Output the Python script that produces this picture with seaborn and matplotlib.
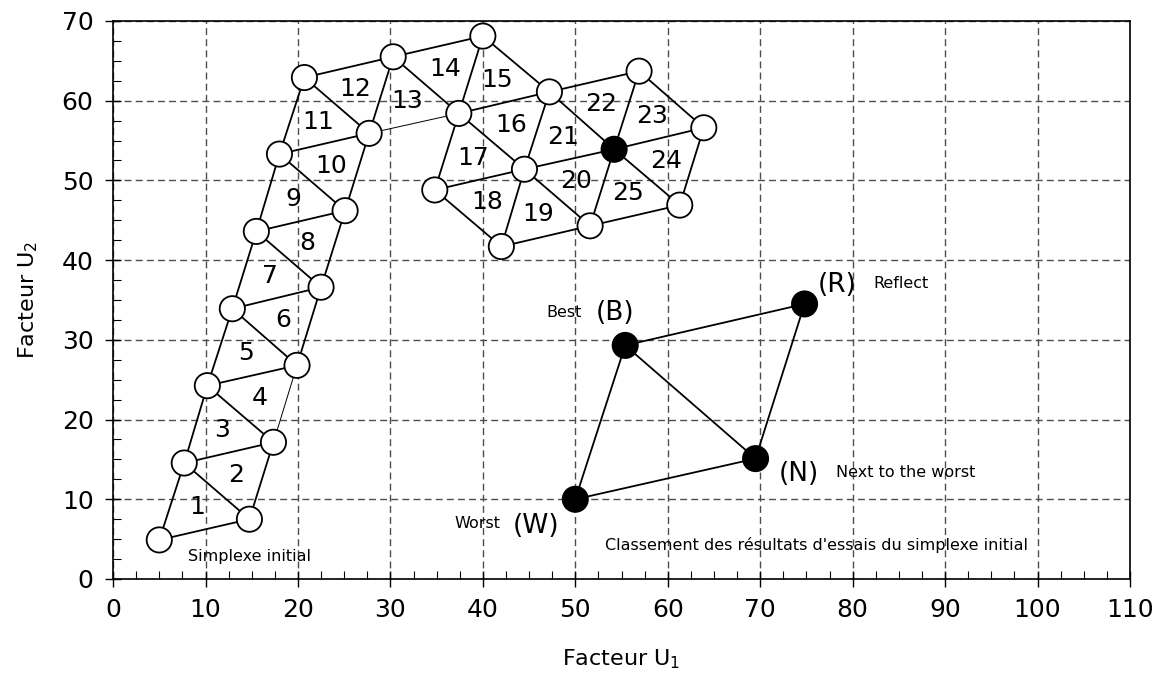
import matplotlib
matplotlib.use("Agg")
import matplotlib.pyplot as plt
import seaborn as sns
import pandas as pd
import numpy as np
from matplotlib.ticker import MultipleLocator

# ---- data ----
vert_u1 = [5.0, 14.75, 7.7, 17.35, 10.2, 19.9, 12.9, 22.5, 15.5, 25.1, 18.0, 27.7, 20.7,
           30.3, 37.4, 40.0, 47.2, 44.5, 34.8, 42.0, 51.6, 54.2, 56.9, 63.9, 61.3]
vert_u2 = [4.9, 7.5, 14.55, 17.15, 24.25, 26.8, 33.9, 36.6, 43.6, 46.2, 53.3, 55.9, 62.9,
           65.5, 58.4, 68.1, 61.1, 51.4, 48.8, 41.7, 44.3, 53.9, 63.7, 56.6, 46.9]
vert_filled = [False] * 21 + [True] + [False] * 3
triangles = [(0, 1, 2), (1, 2, 3), (2, 3, 4), (3, 4, 5), (4, 5, 6), (5, 6, 7), (6, 7, 8),
             (7, 8, 9), (8, 9, 10), (9, 10, 11), (10, 11, 12), (11, 12, 13), (11, 13, 14),
             (13, 14, 15), (14, 15, 16), (14, 16, 17), (14, 17, 18), (17, 18, 19),
             (17, 19, 20), (17, 20, 21), (17, 21, 16), (16, 21, 22), (21, 22, 23),
             (21, 23, 24), (21, 24, 20)]
triangle_labels = [str(i) for i in range(1, 26)]
thin_edges = [(3, 5), (11, 14)]

demo_names = ["W", "B", "N", "R"]
demo_u1 = [50.0, 55.4, 69.5, 74.8]
demo_u2 = [10.0, 29.3, 15.1, 34.5]
demo_edges = [(0, 1), (0, 2), (1, 2), (1, 3), (2, 3)]

x_ticks = list(range(0, 111, 10))
y_ticks = list(range(0, 71, 10))

# ---- figure ----
sns.set_theme(style="white")
plt.rcParams['font.family'] = ['DejaVu Sans']
plt.rcParams['mathtext.default'] = 'regular'
plt.rcParams['text.color'] = 'black'
plt.rcParams['axes.labelcolor'] = 'black'
plt.rcParams['xtick.color'] = 'black'
plt.rcParams['ytick.color'] = 'black'

fig = plt.figure(figsize=(11.74, 6.98), dpi=100)
ax = fig.add_axes([0.0963, 0.1705, 0.8662, 0.7995])

# edges of simplex path
edges = set()
for t in triangles:
    for a, b in [(t[0], t[1]), (t[1], t[2]), (t[0], t[2])]:
        edges.add((min(a, b), max(a, b)))
for a, b in sorted(edges):
    lw = 0.7 if (a, b) in thin_edges else 1.3
    ax.plot([vert_u1[a], vert_u1[b]], [vert_u2[a], vert_u2[b]], color='black', lw=lw, zorder=2)
for a, b in demo_edges:
    ax.plot([demo_u1[a], demo_u1[b]], [demo_u2[a], demo_u2[b]], color='black', lw=1.3, zorder=2)

df = pd.DataFrame({"u1": vert_u1 + demo_u1, "u2": vert_u2 + demo_u2,
                   "filled": vert_filled + [True] * 4})
sns.scatterplot(data=df, x="u1", y="u2", hue="filled", palette={True: "black", False: "white"},
                edgecolor="black", linewidth=1.3, s=330, legend=False, zorder=3, ax=ax)

for lab, t in zip(triangle_labels, triangles):
    cx = np.mean([vert_u1[i] for i in t])
    cy = np.mean([vert_u2[i] for i in t])
    ax.text(cx, cy, lab, fontsize=18, ha='center', va='center', zorder=4)

# demo annotations
ax.text(45.8, 6.6, "(W)", fontsize=19, ha='center', va='center')
ax.text(41.9, 6.9, "Worst", fontsize=11.5, ha='right', va='center')
ax.text(54.3, 33.4, "(B)", fontsize=19, ha='center', va='center')
ax.text(50.7, 33.4, "Best", fontsize=11.5, ha='right', va='center')
ax.text(74.2, 13.2, "(N)", fontsize=19, ha='center', va='center')
ax.text(78.2, 13.3, "Next to the worst", fontsize=11.5, ha='left', va='center')
ax.text(78.3, 36.9, "(R)", fontsize=19, ha='center', va='center')
ax.text(82.2, 37.1, "Reflect", fontsize=11.5, ha='left', va='center')
ax.text(53.2, 4.3, "Classement des résultats d'essais du simplexe initial", fontsize=11.5,
        ha='left', va='center')
ax.text(8.1, 2.8, "Simplexe initial", fontsize=11.5, ha='left', va='center')

ax.set_xlim(0, 110)
ax.set_ylim(0, 70)
ax.set_xticks(x_ticks)
ax.set_yticks(y_ticks)
ax.xaxis.set_minor_locator(MultipleLocator(2.5))
ax.yaxis.set_minor_locator(MultipleLocator(2.5))
ax.tick_params(which='major', direction='inout', length=12, width=1.0, color='black',
               labelsize=18, bottom=True, left=True, top=False, right=False, pad=8)
ax.tick_params(which='minor', direction='in', length=6, width=0.8, color='black',
               bottom=True, left=True, top=False, right=False)
ax.grid(True, which='major', color='#4d4d4d', linestyle=(0, (5, 3)), lw=1.0, zorder=1)
ax.set_axisbelow(True)
for s in ax.spines.values():
    s.set_color('black')
    s.set_linewidth(1.2)
ax.set_xlabel("Facteur U$_1$", fontsize=16, labelpad=18)
ax.set_ylabel("Facteur U$_2$", fontsize=16, labelpad=16)

fig.savefig("out.png", dpi=100)
